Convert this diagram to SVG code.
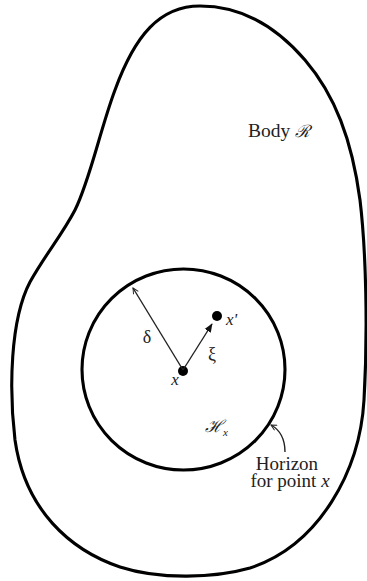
<svg xmlns="http://www.w3.org/2000/svg" width="367" height="581" viewBox="0 0 367 581">
<style>
.bold{fill:none;stroke:#000;stroke-width:3.1}
.thin{fill:none;stroke:#222;stroke-width:1.4}
.t{font-family:"Liberation Serif","DejaVu Serif",serif;fill:#222}
.it{font-style:italic}
.scr{font-family:"DejaVu Serif","Liberation Serif",serif;font-style:italic}
</style>
<defs>
<marker id="open" viewBox="0 0 10 10" refX="9" refY="5" markerWidth="7" markerHeight="7" orient="auto" markerUnits="userSpaceOnUse">
<path d="M1,1 L9,5 L1,9" fill="none" stroke="#222" stroke-width="1.4"/>
</marker>
<marker id="fill" viewBox="0 0 10 10" refX="9" refY="5" markerWidth="9" markerHeight="9" orient="auto" markerUnits="userSpaceOnUse">
<path d="M0,1 L10,5 L0,9 Z" fill="#111"/>
</marker>
</defs>
<rect width="367" height="581" fill="#fff"/>
<g id="body">
<path class="bold" d="M200,6 C240,6 275,25 305,60 C335,95 352,140 360,200 C366,250 368,330 364,400 C360,470 320,545 250,568 C215,578 160,580 120,567 C70,550 25,510 15,440 C9,390 10,320 30,282 C45,255 62,235 75,210 C90,180 100,130 115,90 C135,35 160,6 200,6 Z"/>
<text class="t" x="248" y="137" font-size="19.5">Body <tspan class="scr" font-size="17">ℛ</tspan></text>
</g>
<g id="horizon">
<ellipse class="bold" cx="183.5" cy="369.5" rx="101.5" ry="100.5"/>
<text class="t" x="205" y="432" font-size="17"><tspan class="scr">ℋ</tspan><tspan class="it" font-size="11" dy="4">x</tspan></text>
</g>
<g id="point-x">
<circle cx="183" cy="371" r="5" fill="#000"/>
<text class="t it" x="175" y="385" font-size="17" text-anchor="middle">x</text>
</g>
<g id="point-xprime">
<circle cx="217" cy="316" r="5" fill="#000"/>
<text class="t it" x="226" y="325" font-size="17">x'</text>
</g>
<g id="horizon-label">
<text class="t" x="287" y="470" font-size="19" text-anchor="middle">Horizon</text>
<text class="t" x="290" y="487" font-size="19" text-anchor="middle">for point <tspan class="it">x</tspan></text>
</g>
<g id="connectors">
<line class="thin" x1="183" y1="370" x2="133" y2="288" marker-end="url(#open)"/>
<line class="thin" x1="183" y1="370" x2="212" y2="324" marker-end="url(#fill)"/>
<path class="thin" d="M285,452 C285,440 280,430 271,425" marker-end="url(#open)"/>
<text class="t" x="147" y="343" font-size="18" text-anchor="middle">δ</text>
<text class="t" x="212" y="360" font-size="18" text-anchor="middle">ξ</text>
</g>
</svg>
